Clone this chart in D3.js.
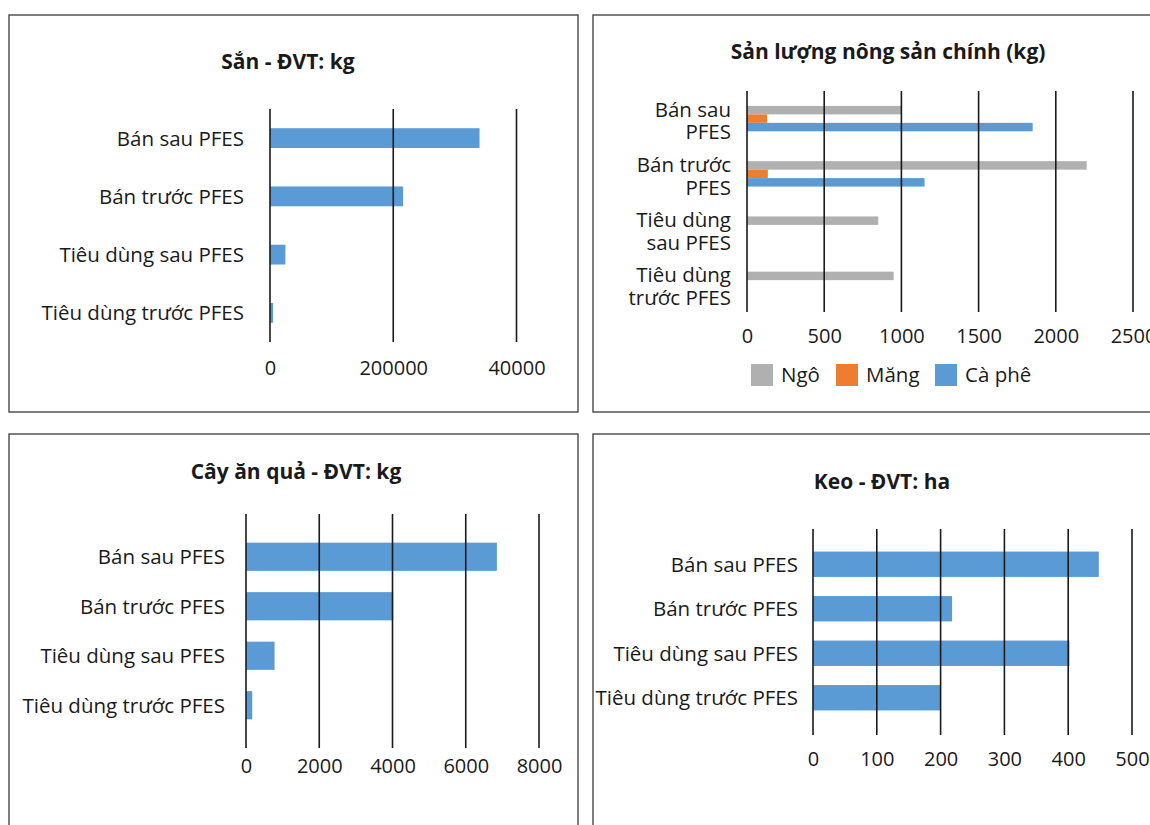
<!DOCTYPE html>
<html>
<head>
<meta charset="utf-8">
<script src="https://cdn.jsdelivr.net/npm/d3@7"></script>
<style>
  body { margin: 0; background: #fff; }
  svg text { font-family: "Open Sans", "Noto Sans", sans-serif; fill: #1a1a1a; }
  .title { font-weight: bold; font-size: 21px; }
  .lbl { font-size: 20.5px; }
  .tick text { font-size: 20px; }
</style>
</head>
<body>
<svg id="chart" width="1150" height="825"></svg>
<script>
// categories (same for every panel)
var categories = ["Bán sau PFES", "Bán trước PFES", "Tiêu dùng sau PFES", "Tiêu dùng trước PFES"];
// wrapped labels used in the grouped chart
var wrappedLabels = [["Bán sau", "PFES"], ["Bán trước", "PFES"], ["Tiêu dùng", "sau PFES"], ["Tiêu dùng", "trước PFES"]];

// Sắn (kg)
var sanValues = [340000, 216000, 25000, 5000];
var sanTicks = [0, 200000, 400000];
var sanTickLabels = ["0", "200000", "40000"];

// Sản lượng nông sản chính (kg)
var seriesNames = ["Ngô", "Măng", "Cà phê"];
var ngoValues = [1000, 2200, 850, 950];
var mangValues = [130, 135, 0, 0];
var caPheValues = [1850, 1150, 0, 0];
var nongSanTicks = [0, 500, 1000, 1500, 2000, 2500];

// Cây ăn quả (kg)
var cayAnQuaValues = [6850, 4020, 780, 170];
var cayAnQuaTicks = [0, 2000, 4000, 6000, 8000];

// Keo (ha)
var keoValues = [448, 218, 402, 200];
var keoTicks = [0, 100, 200, 300, 400, 500];

var seriesColors = ["#b0b0b0", "#ed7d31", "#5b9bd5"];
var barColor = "#5b9bd5";

var svg = d3.select("#chart");

function panelBox(x, y, w, h) {
  svg.append("rect")
    .attr("x", x).attr("y", y).attr("width", w).attr("height", h)
    .attr("fill", "none").attr("stroke", "#3a3a3a").attr("stroke-width", 1.3);
}

function gridAndTicks(g, x, ticks, labels, gy0, gy1, labelY) {
  g.append("g").selectAll("line")
    .data(ticks)
    .enter().append("line")
    .attr("x1", function(d) { return x(d); })
    .attr("x2", function(d) { return x(d); })
    .attr("y1", gy0).attr("y2", gy1)
    .attr("stroke", "#1a1a1a").attr("stroke-width", 1.6);

  var axis = d3.axisBottom(x)
    .tickValues(ticks)
    .tickSize(0)
    .tickPadding(0)
    .tickFormat(function(d, i) { return labels ? labels[i] : String(d); });

  var a = g.append("g").attr("transform", "translate(0," + labelY + ")").call(axis);
  a.select(".domain").remove();
  a.selectAll("text").attr("dy", "0").attr("y", 0).attr("fill", "#1a1a1a");
}

// simple one-series horizontal bar panel
function drawSimple(cfg) {
  panelBox(cfg.box[0], cfg.box[1], cfg.box[2], cfg.box[3]);
  var g = svg.append("g");

  g.append("text").attr("class", "title")
    .attr("x", cfg.titleX).attr("y", cfg.titleY)
    .attr("text-anchor", "middle")
    .text(cfg.title);

  var x = d3.scaleLinear().domain([0, cfg.max]).range([cfg.x0, cfg.x1]);
  var y = d3.scaleBand().domain(categories).range([cfg.by0, cfg.by1])
    .paddingInner(cfg.pad).paddingOuter(cfg.pad / 2);

  g.append("g").selectAll("rect")
    .data(cfg.values)
    .enter().append("rect")
    .attr("x", x(0))
    .attr("y", function(d, i) { return y(categories[i]); })
    .attr("width", function(d) { return x(d) - x(0); })
    .attr("height", y.bandwidth())
    .attr("fill", barColor);

  gridAndTicks(g, x, cfg.ticks, cfg.tickLabels, cfg.gy0, cfg.gy1, cfg.labelY);

  g.append("g").selectAll("text")
    .data(categories)
    .enter().append("text")
    .attr("class", "lbl")
    .attr("x", cfg.labelX)
    .attr("y", function(d) { return y(d) + y.bandwidth() / 2; })
    .attr("dy", "0.36em")
    .attr("text-anchor", "end")
    .text(function(d) { return d; });
}

// panel 1 - Sắn
drawSimple({
  box: [9, 15, 569, 397], title: "Sắn - ĐVT: kg", titleX: 288, titleY: 69,
  values: sanValues, max: 400000, ticks: sanTicks, tickLabels: sanTickLabels,
  x0: 270, x1: 516.5, by0: 109, by1: 342, pad: 0.66,
  gy0: 109, gy1: 342, labelY: 375, labelX: 244
});

// panel 3 - Cây ăn quả
drawSimple({
  box: [9, 434, 569, 420], title: "Cây ăn quả - ĐVT: kg", titleX: 296, titleY: 479,
  values: cayAnQuaValues, max: 8000, ticks: cayAnQuaTicks, tickLabels: null,
  x0: 246, x1: 539, by0: 532, by1: 730, pad: 0.43,
  gy0: 514, gy1: 748, labelY: 773, labelX: 225
});

// panel 4 - Keo
drawSimple({
  box: [593, 434, 580, 420], title: "Keo - ĐVT: ha", titleX: 882, titleY: 489,
  values: keoValues, max: 500, ticks: keoTicks, tickLabels: null,
  x0: 813, x1: 1132, by0: 542, by1: 720, pad: 0.43,
  gy0: 529, gy1: 735, labelY: 766, labelX: 798
});

// panel 2 - grouped bars
(function() {
  panelBox(593, 15, 580, 397);
  var g = svg.append("g");

  g.append("text").attr("class", "title")
    .attr("x", 888).attr("y", 59)
    .attr("text-anchor", "middle")
    .text("Sản lượng nông sản chính (kg)");

  var x = d3.scaleLinear().domain([0, 2500]).range([747, 1133]);
  var y = d3.scaleBand().domain(categories).range([91, 312])
    .paddingInner(0.54).paddingOuter(0.27);
  var ySub = d3.scaleBand().domain(seriesNames).range([0, y.bandwidth()]);

  var allSeries = [ngoValues, mangValues, caPheValues];
  var rows = [];
  allSeries.forEach(function(vals, s) {
    vals.forEach(function(v, i) {
      rows.push({cat: categories[i], series: seriesNames[s], value: v, color: seriesColors[s]});
    });
  });

  g.append("g").selectAll("rect")
    .data(rows.filter(function(d) { return d.value > 0; }))
    .enter().append("rect")
    .attr("x", x(0))
    .attr("y", function(d) { return y(d.cat) + ySub(d.series); })
    .attr("width", function(d) { return x(d.value) - x(0); })
    .attr("height", ySub.bandwidth())
    .attr("fill", function(d) { return d.color; });

  gridAndTicks(g, x, nongSanTicks, null, 91, 312, 343);

  // two-line category labels
  var lab = g.append("g").selectAll("text")
    .data(categories)
    .enter().append("text")
    .attr("class", "lbl")
    .attr("text-anchor", "end")
    .attr("y", function(d) { return y(d) + y.bandwidth() / 2 + 2; });
  lab.each(function(d, i) {
    var t = d3.select(this);
    wrappedLabels[i].forEach(function(line, k) {
      t.append("tspan").attr("x", 731)
        .attr("dy", k == 0 ? "-0.2em" : "1.12em")
        .text(line);
    });
  });

  // legend
  var legX = [751, 836, 935];
  var leg = g.append("g").selectAll("g")
    .data(seriesNames)
    .enter().append("g")
    .attr("transform", function(d, i) { return "translate(" + legX[i] + ",364)"; });
  leg.append("rect").attr("width", 22).attr("height", 22)
    .attr("fill", function(d, i) { return seriesColors[i]; });
  leg.append("text").attr("class", "lbl")
    .attr("x", 30).attr("y", 18)
    .text(function(d) { return d; });
})();
</script>
</body>
</html>
